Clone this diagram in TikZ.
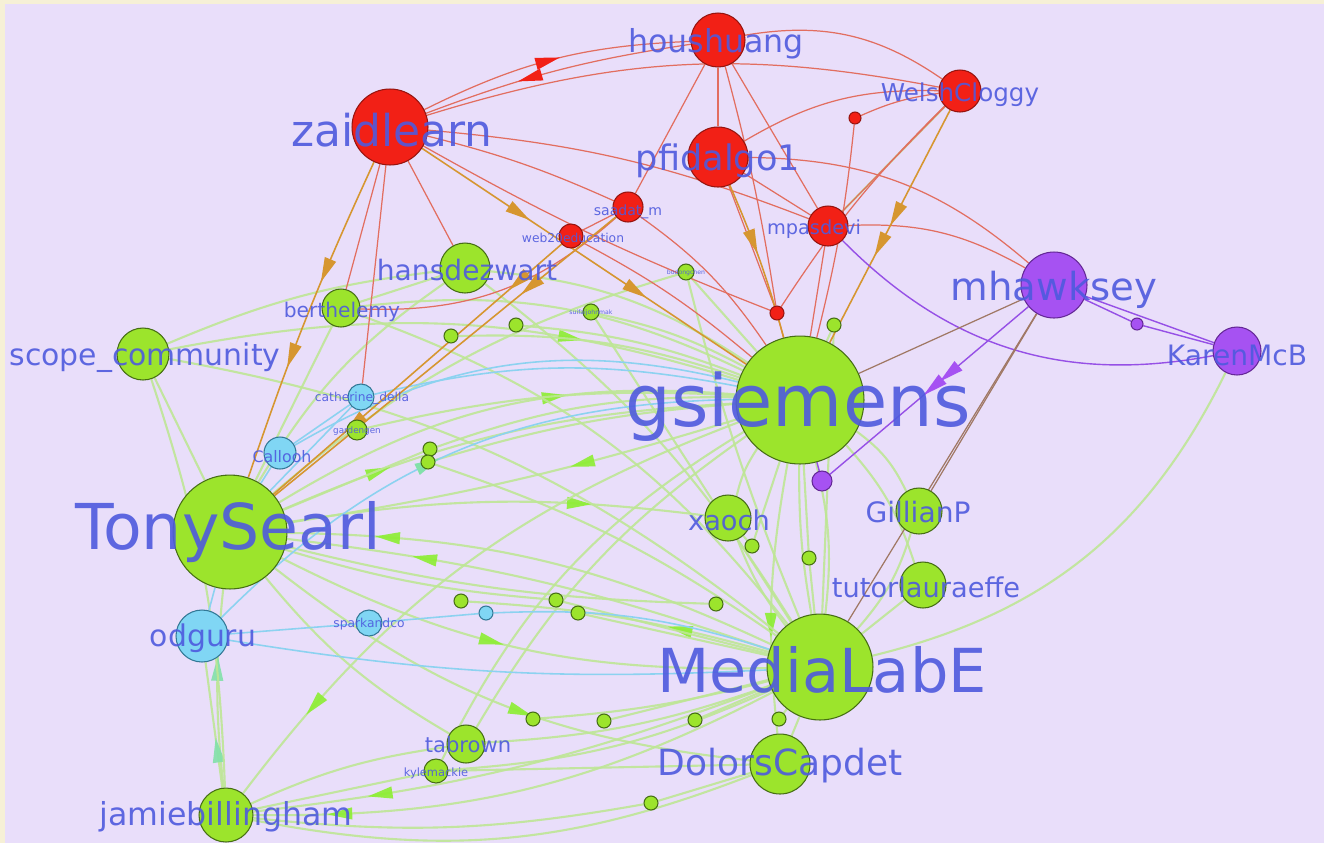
\documentclass[tikz,border=0pt]{standalone}
\usepackage{fontspec}
\setmainfont{DejaVu Sans}
\usetikzlibrary{decorations.markings}
\pgfdeclarelayer{bg}\pgfdeclarelayer{edges}
\pgfsetlayers{bg,edges,main}
\definecolor{bgc}{RGB}{233,222,250}
\definecolor{frame}{RGB}{246,240,214}
\definecolor{nred}{RGB}{242,32,22}
\definecolor{nredd}{RGB}{150,20,15}
\definecolor{ngreen}{RGB}{156,228,44}
\definecolor{ngreend}{RGB}{70,110,20}
\definecolor{ncyan}{RGB}{128,214,244}
\definecolor{ncyand}{RGB}{50,120,150}
\definecolor{npurp}{RGB}{166,82,242}
\definecolor{npurpd}{RGB}{100,40,150}
\definecolor{lblue}{RGB}{78,90,222}
\definecolor{ered}{RGB}{226,110,96}
\definecolor{eorange}{RGB}{214,150,48}
\definecolor{egreen}{RGB}{190,230,150}
\definecolor{agreen}{RGB}{140,238,50}
\definecolor{acyan}{RGB}{130,225,170}
\definecolor{ecyan}{RGB}{140,210,240}
\definecolor{epurp}{RGB}{150,80,230}
\definecolor{ebrown}{RGB}{160,120,100}
\tikzset{
 nb/.style={circle,inner sep=0pt,line width=0.6pt,minimum size=#1*0.04cm},
 rn/.style={nb=#1,fill=nred,draw=nredd},
 gn/.style={nb=#1,fill=ngreen,draw=ngreend},
 cn/.style={nb=#1,fill=ncyan,draw=ncyand},
 pn/.style={nb=#1,fill=npurp,draw=npurpd},
 lb/.style={text=lblue,text opacity=0.9,inner sep=0pt,font=\fontsize{#1pt}{#1pt}\selectfont},
 er/.style={draw=ered,line width=0.7pt},
 eo/.style={draw=eorange,line width=0.9pt},
 eg/.style={draw=egreen,line width=1.2pt,opacity=0.9},
 ec/.style={draw=ecyan,line width=0.9pt},
 ep/.style={draw=epurp,line width=0.8pt},
 eb/.style={draw=ebrown,line width=0.7pt},
 mg/.style={postaction={decorate,decoration={markings,mark=at position #1 with {\fill[agreen] (7pt,0)--(-7pt,3.5pt)--(-7pt,-3.5pt)--cycle;}}}},
 mc/.style={postaction={decorate,decoration={markings,mark=at position #1 with {\fill[acyan] (7pt,0)--(-7pt,3.5pt)--(-7pt,-3.5pt)--cycle;}}}},
 mo/.style={postaction={decorate,decoration={markings,mark=at position #1 with {\fill[eorange] (7pt,0)--(-7pt,3.5pt)--(-7pt,-3.5pt)--cycle;}}}},
 mr/.style={postaction={decorate,decoration={markings,mark=at position #1 with {\fill[nred] (7pt,0)--(-7pt,3.5pt)--(-7pt,-3.5pt)--cycle;}}}},
 mp/.style={postaction={decorate,decoration={markings,mark=at position #1 with {\fill[npurp] (7pt,0)--(-7pt,3.5pt)--(-7pt,-3.5pt)--cycle;}}}},
}
\begin{document}
\begin{tikzpicture}[x=0.02cm,y=-0.02cm]
\begin{pgfonlayer}{bg}
\fill[frame] (0,0) rectangle (1324,843);
\fill[bgc] (5,4) rectangle (1324,843);
\end{pgfonlayer}
\useasboundingbox (0,0) rectangle (1324,843);
% red nodes
\node[rn=27] (hou) at (718,40) {};
\node[rn=38] (zaid) at (390,127) {};
\node[rn=21] (welsh) at (960,91) {};
\node[rn=30] (pfid) at (718,157) {};
\node[rn=6] (r1) at (855,118) {};
\node[rn=15] (saad) at (628,207) {};
\node[rn=12] (web) at (571,236) {};
\node[rn=20] (mpas) at (828,226) {};
\node[rn=7] (r2) at (777,313) {};
% green nodes
\node[gn=25] (hans) at (465,268) {};
\node[gn=19] (berth) at (341,308) {};
\node[gn=8] (bod) at (686,272) {};
\node[gn=8] (g1) at (591,312) {};
\node[gn=7] (g2) at (516,325) {};
\node[gn=7] (g3) at (451,336) {};
\node[gn=7] (g4) at (834,325) {};
\node[gn=26] (scope) at (143,354) {};
\node[gn=64] (gsi) at (800,400) {};
\node[gn=10] (g5) at (357,430) {};
\node[gn=7] (g6) at (430,449) {};
\node[gn=7] (g7) at (428,462) {};
\node[gn=57] (tony) at (230,532) {};
\node[gn=23] (xaoch) at (728,518) {};
\node[gn=23] (gill) at (919,511) {};
\node[gn=7] (g8) at (752,546) {};
\node[gn=7] (g9) at (809,558) {};
\node[gn=23] (tutor) at (923,585) {};
\node[gn=7] (g10) at (461,601) {};
\node[gn=7] (g11) at (556,600) {};
\node[gn=7] (g12) at (578,613) {};
\node[gn=7] (g13) at (716,604) {};
\node[gn=53] (media) at (820,667) {};
\node[gn=19] (tab) at (466,744) {};
\node[gn=12] (kyle) at (436,771) {};
\node[gn=7] (g14) at (533,719) {};
\node[gn=7] (g15) at (604,721) {};
\node[gn=7] (g16) at (695,720) {};
\node[gn=7] (g17) at (779,719) {};
\node[gn=30] (dolors) at (780,764) {};
\node[gn=7] (g18) at (651,803) {};
\node[gn=27] (jamie) at (226,815) {};
% cyan nodes
\node[cn=13] (cath) at (361,397) {};
\node[cn=16] (call) at (280,453) {};
\node[cn=26] (odg) at (202,636) {};
\node[cn=13] (spark) at (369,623) {};
\node[cn=7] (c1) at (486,613) {};
% purple nodes
\node[pn=33] (mhaw) at (1054,285) {};
\node[pn=24] (karen) at (1237,351) {};
\node[pn=6] (p1) at (1137,324) {};
\node[pn=10] (p2) at (822,481) {};

\begin{pgfonlayer}{edges}
% green edges
\draw[eg,mg=0.62] (tony) to[bend left=18] (gsi);
\draw[eg,mg=0.22] (tony) to[bend left=10] (gsi);
\draw[eg,mg=0.35] (gsi) to[bend left=4] (tony);
\draw[eg,mg=0.45] (tony) to[bend right=14] (media);
\draw[eg,mg=0.72] (media) to[bend right=6] (tony);
\draw[eg,mg=0.8] (media) to[bend right=12] (tony);
\draw[eg] (tony) -- (scope);
\draw[eg] (tony) -- (berth);
\draw[eg] (tony) to[bend left=12] (hans);
\draw[eg,mg=0.7] (tony) to[bend left=8] (xaoch);
\draw[eg,mc=0.6] (jamie) to[bend left=6] (tony);
\draw[eg] (tony) to[bend right=10] (tab);
\draw[eg,mg=0.55] (tony) to[bend right=16] (dolors);
\draw[eg] (tony) to[bend left=12] (bod);
\draw[eg] (tony) to[bend right=6] (g11);
\draw[eg] (tony) to[bend right=6] (g13);
\draw[eg] (gsi) to[bend left=10] (media);
\draw[eg] (media) to[bend left=5] (gsi);
\draw[eg,mg=0.7] (scope) to[bend left=14] (gsi);
\draw[eg] (gsi) to[bend right=14] (hans);
\draw[eg] (gsi) to[bend right=16] (berth);
\draw[eg,mg=0.82] (gsi) to[bend right=16] (jamie);
\draw[eg] (gsi) to[bend right=10] (xaoch);
\draw[eg] (gsi) to[bend left=14] (gill);
\draw[eg] (gsi) to[bend left=12] (tutor);
\draw[eg,mg=0.6] (gsi) to[bend right=8] (dolors);
\draw[eg] (gsi) to[bend right=12] (tab);
\draw[eg] (gsi) -- (g8);
\draw[eg] (gsi) -- (g9);
\draw[eg] (gsi) -- (g4);
\draw[eg] (gsi) to[bend right=8] (g1);
\draw[eg] (gsi) to[bend right=8] (g2);
\draw[eg] (gsi) to[bend right=10] (g3);
\draw[eg] (gsi) to[bend right=16] (kyle);
\draw[eg] (gsi) to[bend right=10] (g6);
\draw[eg] (gsi) to[bend right=8] (g5);
\draw[eg] (karen) to[bend left=25] (media);
\draw[eg] (welsh) -- (mpas);
\draw[eg,mg=0.84] (media) to[bend left=14] (jamie);
\draw[eg,mg=0.76] (media) to[bend left=7] (jamie);
\draw[eg] (media) to[bend right=14] (scope);
\draw[eg] (media) to[bend right=10] (hans);
\draw[eg] (media) to[bend left=8] (xaoch);
\draw[eg] (media) to[bend right=12] (gill);
\draw[eg] (media) -- (tutor);
\draw[eg] (media) -- (dolors);
\draw[eg] (media) to[bend left=8] (tab);
\draw[eg] (media) to[bend left=10] (kyle);
\draw[eg] (media) to[bend left=5] (g14);
\draw[eg] (media) -- (g15);
\draw[eg] (media) -- (g16);
\draw[eg] (media) -- (g17);
\draw[eg,mg=0.3] (media) to[bend right=6] (g10);
\draw[eg] (media) -- (g11);
\draw[eg] (media) -- (g12);
\draw[eg] (media) to[bend right=16] (berth);
\draw[eg] (media) to[bend right=8] (g7);
\draw[eg,mc=0.3] (jamie) -- (odg);
\draw[eg] (jamie) to[bend right=8] (scope);
\draw[eg] (jamie) to[bend right=16] (dolors);
\draw[eg] (jamie) -- (kyle);
\draw[eg] (jamie) to[bend left=8] (tab);
\draw[eg] (jamie) to[bend right=8] (g18);
\draw[eg] (bod) -- (gsi);
\draw[eg] (bod) to[bend right=4] (media);
\draw[eg] (dolors) -- (kyle);
\draw[eg] (g18) -- (dolors);
\draw[eg] (xaoch) -- (g8);
\draw[eg] (g9) -- (media);
\draw[eg] (hans) -- (berth);
\draw[eg] (g6) -- (tony);
\draw[eg] (g7) to[bend left=6] (gsi);
\draw[eg] (scope) to[bend left=8] (hans);
\draw[eg] (g1) -- (media);
\draw[eg] (g4) -- (media);
% cyan edges
\draw[ec] (odg) -- (spark);
\draw[ec] (spark) -- (c1);
\draw[ec] (c1) to[bend left=10] (media);
\draw[ec] (odg) to[bend right=6] (media);
\draw[ec] (odg) -- (tony);
\draw[ec] (call) -- (tony);
\draw[ec] (cath) -- (tony);
\draw[ec] (call) to[bend left=22] (gsi);
\draw[ec] (cath) to[bend left=12] (gsi);
\draw[ec,mc=0.45] (odg) to[bend left=22] (gsi);
\draw[ec] (call) -- (cath);
% red edges
\draw[er,mr=0.48] (zaid) to[bend left=12] (hou);
\draw[er,mr=0.6] (hou) to[bend right=6] (zaid);
\draw[er] (zaid) to[bend left=14] (welsh);
\draw[er] (hou) to[bend left=22] (welsh);
\draw[er] (hou) -- (pfid);
\draw[er] (hou) -- (saad);
\draw[er] (hou) -- (mpas);
\draw[er] (hou) to[bend left=3] (r2);
\draw[er] (pfid) to[bend left=16] (welsh);
\draw[er] (pfid) -- (mpas);
\draw[er] (pfid) -- (r2);
\draw[er] (pfid) to[bend left=20] (mhaw);
\draw[er] (mpas) to[bend left=16] (mhaw);
\draw[er] (zaid) to[bend left=5] (saad);
\draw[er] (zaid) to[bend left=8] (mpas);
\draw[er] (zaid) to[bend right=4] (r2);
\draw[er] (zaid) -- (hans);
\draw[er] (zaid) -- (berth);
\draw[er] (zaid) -- (cath);
\draw[er] (welsh) -- (mpas);
\draw[er] (welsh) to[bend right=8] (r1);
\draw[er] (welsh) to[bend right=6] (r2);
\draw[er] (r1) to[bend left=4] (gsi);
\draw[er] (mpas) -- (gsi);
\draw[er] (r2) -- (gsi);
\draw[er] (saad) to[bend left=10] (gsi);
\draw[er] (web) to[bend left=6] (gsi);
\draw[er] (berth) to[bend right=22] (saad);
\draw[er] (saad) -- (web);
% orange edges
\draw[eo,mo=0.35,mo=0.62] (zaid) to[bend right=3] (tony);
\draw[eo,mo=0.3,mo=0.66] (zaid) -- (gsi);
\draw[eo,mo=0.45,mo=0.58] (welsh) -- (gsi);
\draw[eo,mo=0.38] (pfid) to[bend left=4] (gsi);
\draw[eo,mo=0.25] (saad) -- (tony);
\draw[eo,mo=0.15,mo=0.72] (web) -- (tony);
% purple edges
\draw[ep] (mhaw) -- (karen);
\draw[ep] (mhaw) -- (p1);
\draw[ep] (p1) -- (karen);
\draw[ep,mp=0.4,mp=0.48] (mhaw) -- (p2);
\draw[ep] (mpas) to[bend right=28] (karen);
\draw[ep] (p2) -- (gsi);
% brown edges
\draw[eb] (mhaw) -- (gsi);
\draw[eb] (mhaw) -- (gill);
\draw[eb] (mhaw) -- (media);
\end{pgfonlayer}

% labels
\node[lb=18] (lhou) at (716,44) {houshuang};
\node[lb=25] (lzaid) at (392,130) {zaidlearn};
\node[lb=14] (lwelsh) at (960,95) {WelshCloggy};
\node[lb=20] (lpfid) at (718,161) {pfidalgo1};
\node[lb=8] (lsaad) at (628,212) {saadat\_m};
\node[lb=7] (lweb) at (573,238) {web20education};
\node[lb=11] (lmpas) at (814,229) {mpasdevi};
\node[lb=16] (lhans) at (467,270) {hansdezwart};
\node[lb=11.5] (lberth) at (342,312) {berthelemy};
\node[lb=3.5] (lbod) at (686,273) {bodongchen};
\node[lb=3.5] (lg1) at (591,313) {suifaijohnmak};
\node[lb=17] (lscope) at (145,358) {scope\_community};
\node[lb=41] (lgsi) at (798,407) {gsiemens};
\node[lb=7] (lcath) at (362,398) {catherine\_della};
\node[lb=5] (lg5) at (357,431) {gardengen};
\node[lb=9] (lcall) at (282,457) {Callooh};
\node[lb=36] (ltony) at (228,532) {TonySearl};
\node[lb=15.5] (lxaoch) at (729,520) {xaoch};
\node[lb=16] (lgill) at (918,512) {GillianP};
\node[lb=15.5] (ltutor) at (926,587) {tutorlauraeffe};
\node[lb=17] (lodg) at (203,638) {odguru};
\node[lb=7] (lspark) at (369,624) {sparkandco};
\node[lb=34.5] (lmedia) at (822,670) {MediaLabE};
\node[lb=12] (ltab) at (468,745) {tabrown};
\node[lb=6.5] (lkyle) at (436,773) {kylemackie};
\node[lb=20.5] (ldolors) at (780,766) {DolorsCapdet};
\node[lb=18] (ljamie) at (226,817) {jamiebillingham};
\node[lb=22] (lmhaw) at (1054,290) {mhawksey};
\node[lb=16] (lkaren) at (1237,355) {KarenMcB};
\end{tikzpicture}
\end{document}
